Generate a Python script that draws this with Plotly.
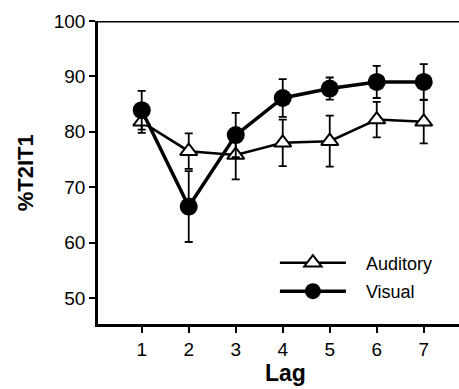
import plotly.graph_objects as go

lags = [1, 2, 3, 4, 5, 6, 7]
auditory = [81.8, 76.5, 75.8, 78.0, 78.3, 82.2, 81.8]
auditory_err = [2.0, 3.2, 4.4, 4.2, 4.6, 3.2, 3.9]
visual = [83.9, 66.5, 79.4, 86.1, 87.8, 89.0, 89.0]
visual_err = [3.5, 6.4, 4.0, 3.4, 2.0, 2.9, 3.2]
y_ticks = [50, 60, 70, 80, 90, 100]

FONT = "Liberation Sans, Arial, sans-serif"
NB = "\u00a0"

fig = go.Figure()
fig.add_trace(go.Scatter(
    x=lags, y=auditory, name=NB * 3 + "Auditory", mode="lines+markers",
    legendgroup="a",
    line=dict(color="black", width=2.5),
    marker=dict(symbol="triangle-up", size=15, color="white",
                line=dict(color="black", width=2)),
    error_y=dict(type="data", array=auditory_err, color="black",
                 thickness=1.8, width=4),
))
fig.add_trace(go.Scatter(
    x=lags, y=visual, name=NB * 3 + "Visual", mode="lines+markers",
    legendgroup="v",
    line=dict(color="black", width=3.5),
    marker=dict(symbol="circle", size=18, color="black"),
    error_y=dict(type="data", array=visual_err, color="black",
                 thickness=1.8, width=4),
))

fig.update_layout(
    width=459, height=389,
    margin=dict(l=98, r=0, t=21, b=65, autoexpand=False),
    plot_bgcolor="white", paper_bgcolor="white",
    font=dict(family=FONT, color="black", size=18),
    showlegend=True,
    legend=dict(x=0.49, y=0.155, xanchor="left", yanchor="middle",
                bgcolor="rgba(0,0,0,0)", font=dict(size=18),
                tracegroupgap=2, itemwidth=66),
    xaxis=dict(range=[0.07, 7.75], tickvals=lags, showgrid=False,
               zeroline=False, showline=True, linecolor="black",
               linewidth=2.5, ticks="outside", ticklen=6, tickwidth=2,
               tickcolor="black", tickfont=dict(size=19), automargin=False),
    yaxis=dict(range=[45.3, 100], tickvals=y_ticks,
               showgrid=False, zeroline=False, showline=True,
               linecolor="black", linewidth=2.5, ticks="outside",
               ticklen=6, tickwidth=2, tickcolor="black",
               tickfont=dict(size=19), automargin=False),
    annotations=[
        dict(text="<b>Lag</b>", xref="paper", yref="paper", x=0.52, y=-0.163,
             xanchor="center", yanchor="middle", showarrow=False,
             font=dict(size=23)),
        dict(text="<b>%T2IT1</b>", xref="paper", yref="paper", x=-0.2, y=0.5,
             xanchor="center", yanchor="middle", showarrow=False,
             textangle=-90, font=dict(size=22)),
    ],
)
fig.add_shape(type="line", xref="paper", yref="y", x0=0, x1=1, y0=100, y1=100,
              line=dict(color="black", width=3))

fig.write_html("out.html", config={"displayModeBar": False},
               post_script="document.body.style.margin='0';")
